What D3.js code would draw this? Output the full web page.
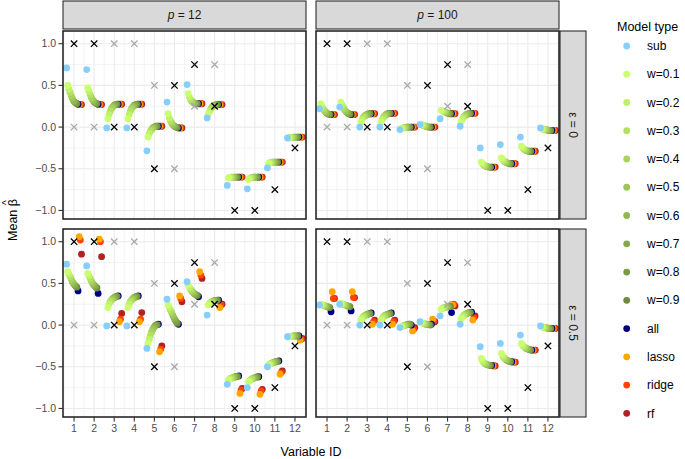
<!DOCTYPE html>
<html><head><meta charset="utf-8">
<script src="https://cdn.jsdelivr.net/npm/d3@7"></script>
<style>
body{margin:0;background:#fff}
svg{display:block}
text{font-family:"Liberation Sans",Arial,Helvetica,sans-serif}
</style>
</head><body>
<svg id="chart" width="685" height="459"></svg>
<script>
// ---------------- DATA ----------------
const variables = [1,2,3,4,5,6,7,8,9,10,11,12];
const modelTypes = ["sub","w=0.1","w=0.2","w=0.3","w=0.4","w=0.5","w=0.6","w=0.7","w=0.8","w=0.9","all","lasso","ridge","rf"];
const pLabels = ["12","100"];
const epsLabels = ["0","0.5"];
const yTicks = [-1,-0.5,0,0.5,1];
const yTickLabels = ["\u22121.0","\u22120.5","0.0","0.5","1.0"];
const trueBeta = [1,1,0,0,-0.5,0.5,0.75,0.25,-1,-1,-0.75,-0.25];
const altBeta  = [0,0,1,1,0.5,-0.5,0.25,0.75,null,null,null,null];

// rows = model types (same order as modelTypes), columns = variables 1..12
const p12_eps0 = [
 [0.71,0.69,-0.01,-0.01,-0.285,0.30,0.51,0.11,-0.70,-0.74,-0.49,-0.13],
 [0.50,0.47,0.10,0.10,-0.12,0.16,0.40,0.16,-0.61,-0.63,-0.44,-0.13],
 [0.455,0.43,0.15,0.15,-0.08,0.11,0.36,0.19,-0.605,-0.615,-0.43,-0.13],
 [0.415,0.39,0.19,0.19,-0.05,0.075,0.33,0.215,-0.60,-0.61,-0.425,-0.125],
 [0.375,0.355,0.22,0.22,-0.03,0.05,0.31,0.235,-0.60,-0.605,-0.42,-0.125],
 [0.345,0.33,0.24,0.24,-0.01,0.03,0.30,0.25,-0.60,-0.60,-0.42,-0.12],
 [0.315,0.31,0.255,0.255,0.0,0.015,0.29,0.26,-0.60,-0.60,-0.42,-0.12],
 [0.30,0.295,0.265,0.265,0.005,0.005,0.285,0.265,-0.60,-0.60,-0.42,-0.12],
 [0.29,0.285,0.27,0.27,0.01,0.0,0.28,0.27,-0.60,-0.60,-0.42,-0.12],
 [0.28,0.28,0.275,0.275,0.01,-0.005,0.28,0.27,-0.60,-0.60,-0.42,-0.12],
 [0.275,0.275,0.275,0.275,0.01,-0.01,0.28,0.27,-0.60,-0.60,-0.42,-0.12],
 [0.27,0.27,0.275,0.275,0.01,-0.01,0.28,0.27,-0.60,-0.60,-0.42,-0.12],
 [0.27,0.27,0.275,0.275,0.01,-0.01,0.28,0.27,-0.60,-0.60,-0.42,-0.12],
 [0.27,0.27,0.275,0.275,0.01,-0.01,0.28,0.27,-0.60,-0.60,-0.42,-0.12]
];
const p100_eps0 = [
 [0.22,0.24,0.0,0.0,-0.03,0.03,0.10,0.01,-0.25,-0.21,-0.12,-0.01],
 [0.28,0.30,0.06,0.06,-0.02,0.03,0.20,0.07,-0.42,-0.37,-0.23,-0.02],
 [0.25,0.27,0.09,0.09,-0.015,0.025,0.195,0.10,-0.44,-0.39,-0.25,-0.025],
 [0.22,0.24,0.115,0.115,-0.01,0.02,0.19,0.12,-0.455,-0.405,-0.265,-0.03],
 [0.20,0.215,0.13,0.135,-0.005,0.015,0.18,0.135,-0.465,-0.415,-0.275,-0.03],
 [0.185,0.195,0.14,0.145,0.0,0.01,0.175,0.145,-0.47,-0.425,-0.28,-0.035],
 [0.17,0.18,0.15,0.155,0.0,0.005,0.17,0.155,-0.475,-0.43,-0.285,-0.035],
 [0.16,0.165,0.155,0.16,0.0,0.0,0.165,0.16,-0.48,-0.435,-0.29,-0.04],
 [0.155,0.16,0.16,0.165,0.0,0.0,0.16,0.16,-0.48,-0.44,-0.29,-0.04],
 [0.15,0.155,0.16,0.165,0.0,0.0,0.16,0.165,-0.48,-0.44,-0.29,-0.04],
 [0.15,0.15,0.16,0.165,0.0,0.0,0.16,0.165,-0.48,-0.44,-0.29,-0.04],
 [0.15,0.15,0.16,0.165,0.0,0.0,0.16,0.165,-0.48,-0.44,-0.29,-0.04],
 [0.15,0.15,0.16,0.165,0.0,0.0,0.16,0.165,-0.48,-0.44,-0.29,-0.04],
 [0.15,0.15,0.16,0.165,0.0,0.0,0.16,0.165,-0.48,-0.44,-0.29,-0.04]
];
const p12_eps05 = [
 [0.73,0.71,-0.01,-0.01,-0.28,0.31,0.52,0.12,-0.71,-0.75,-0.50,-0.14],
 [0.64,0.62,0.21,0.21,-0.22,0.24,0.48,0.24,-0.66,-0.68,-0.48,-0.14],
 [0.61,0.59,0.25,0.25,-0.17,0.21,0.455,0.26,-0.65,-0.665,-0.47,-0.14],
 [0.58,0.56,0.28,0.28,-0.125,0.18,0.43,0.27,-0.64,-0.655,-0.46,-0.135],
 [0.55,0.53,0.30,0.30,-0.085,0.15,0.41,0.28,-0.635,-0.645,-0.455,-0.135],
 [0.52,0.505,0.315,0.315,-0.055,0.12,0.395,0.285,-0.63,-0.64,-0.45,-0.13],
 [0.50,0.485,0.325,0.325,-0.03,0.09,0.38,0.29,-0.625,-0.635,-0.445,-0.13],
 [0.48,0.47,0.335,0.335,-0.01,0.06,0.37,0.295,-0.62,-0.63,-0.44,-0.13],
 [0.465,0.455,0.34,0.34,0.0,0.04,0.36,0.295,-0.62,-0.625,-0.44,-0.13],
 [0.455,0.445,0.345,0.345,0.005,0.02,0.355,0.30,-0.615,-0.62,-0.435,-0.13],
 [0.41,0.38,0.35,0.35,0.01,0.01,0.34,0.30,-0.61,-0.62,-0.43,-0.13],
 [1.06,1.03,0.04,0.04,-0.32,0.35,0.64,0.21,-0.82,-0.83,-0.59,-0.18],
 [1.02,1.00,0.07,0.07,-0.29,0.32,0.60,0.24,-0.78,-0.79,-0.57,-0.17],
 [0.85,0.82,0.14,0.15,-0.25,0.28,0.56,0.25,-0.76,-0.77,-0.55,-0.16]
];
const p100_eps05 = [
 [0.24,0.25,0.0,0.0,-0.03,0.04,0.11,0.01,-0.26,-0.22,-0.12,-0.01],
 [0.25,0.26,0.06,0.06,-0.02,0.03,0.19,0.08,-0.40,-0.34,-0.22,-0.02],
 [0.245,0.255,0.08,0.08,-0.015,0.025,0.20,0.10,-0.43,-0.37,-0.245,-0.025],
 [0.24,0.25,0.10,0.10,-0.01,0.02,0.205,0.115,-0.45,-0.39,-0.26,-0.03],
 [0.235,0.245,0.11,0.11,-0.005,0.015,0.21,0.125,-0.46,-0.405,-0.27,-0.03],
 [0.23,0.24,0.12,0.12,0.0,0.01,0.215,0.135,-0.47,-0.415,-0.28,-0.035],
 [0.225,0.235,0.125,0.125,0.005,0.01,0.22,0.14,-0.475,-0.425,-0.285,-0.035],
 [0.22,0.23,0.13,0.13,0.01,0.005,0.22,0.145,-0.48,-0.43,-0.29,-0.04],
 [0.215,0.225,0.135,0.135,0.01,0.005,0.225,0.15,-0.48,-0.435,-0.295,-0.04],
 [0.21,0.22,0.14,0.14,0.01,0.0,0.225,0.15,-0.485,-0.44,-0.30,-0.04],
 [0.16,0.17,0.145,0.145,0.0,0.01,0.15,0.155,-0.485,-0.44,-0.30,-0.04],
 [0.40,0.40,0.01,0.01,-0.07,0.07,0.24,0.06,-0.49,-0.445,-0.30,-0.04],
 [0.32,0.33,0.04,0.04,-0.05,0.05,0.25,0.09,-0.49,-0.445,-0.30,-0.04],
 [0.32,0.33,0.06,0.06,-0.03,0.04,0.23,0.11,-0.49,-0.445,-0.30,-0.04]
];
const panelData = [[p12_eps0, p100_eps0],[p12_eps05, p100_eps05]];

// ---------------- STYLE / LAYOUT ----------------
const wColors = d3.range(9).map(i => d3.interpolateRgb("#CAFF70","#6E8B3D")(i/8));
const typeColors = ["#87CEFA", ...wColors, "#000080", "#FFA500", "#FF4500", "#B22222"];
const color = d3.scaleOrdinal().domain(modelTypes).range(typeColors);

const cols = [{x0:63,x1:306},{x0:316,x1:559}];
const rows = [{y0:31,y1:219},{y0:229,y1:417}];
const R = 3.4;
const dodgeWidth = 0.8;

const svg = d3.select("#chart");
const defs = svg.append("defs");

rows.forEach((row, ri) => {
  cols.forEach((col, ci) => {
    const x = d3.scaleLinear().domain([0.45, 12.55]).range([col.x0, col.x1]);
    const y = d3.scaleLinear().domain([-1.1025, 1.1525]).range([row.y1, row.y0]);
    const g = svg.append("g");
    const clipId = `clip${ri}${ci}`;
    defs.append("clipPath").attr("id", clipId).append("rect")
      .attr("x", col.x0).attr("y", row.y0).attr("width", col.x1 - col.x0).attr("height", row.y1 - row.y0);

    g.append("rect").attr("x", col.x0).attr("y", row.y0).attr("width", col.x1-col.x0).attr("height", row.y1-row.y0).attr("fill","#fff");

    // minor grid
    const minorX = d3.range(0.5, 12.51, 1);
    const minorY = [-0.75,-0.25,0.25,0.75];
    g.selectAll(".mx").data(minorX).join("line")
      .attr("x1", d=>x(d)).attr("x2", d=>x(d)).attr("y1", row.y0).attr("y2", row.y1)
      .attr("stroke","#EBEBEB").attr("stroke-width",0.6);
    g.selectAll(".my").data(minorY).join("line")
      .attr("y1", d=>y(d)).attr("y2", d=>y(d)).attr("x1", col.x0).attr("x2", col.x1)
      .attr("stroke","#EBEBEB").attr("stroke-width",0.6);
    // major grid
    g.selectAll(".Mx").data(variables).join("line")
      .attr("x1", d=>x(d)).attr("x2", d=>x(d)).attr("y1", row.y0).attr("y2", row.y1)
      .attr("stroke","#EBEBEB").attr("stroke-width",1.1);
    g.selectAll(".My").data(yTicks).join("line")
      .attr("y1", d=>y(d)).attr("y2", d=>y(d)).attr("x1", col.x0).attr("x2", col.x1)
      .attr("stroke","#EBEBEB").attr("stroke-width",1.1);

    // points (drawn from last model type to first, so "sub" ends on top)
    const data = panelData[ri][ci];
    const pts = [];
    for (let t = modelTypes.length - 1; t >= 0; t--) {
      variables.forEach((v, vi) => {
        pts.push({type: modelTypes[t], ti: t, v, val: data[t][vi]});
      });
    }
    const pg = g.append("g").attr("clip-path", `url(#${clipId})`);
    pg.selectAll("circle").data(pts).join("circle")
      .attr("cx", d => x(d.v + (d.ti - (modelTypes.length-1)/2) * dodgeWidth / modelTypes.length))
      .attr("cy", d => y(d.val))
      .attr("r", R)
      .attr("fill", d => color(d.type));

    // X marks
    const cross = "M-3.2,-3.2L3.2,3.2M-3.2,3.2L3.2,-3.2";
    const altPts = variables.map((v,i)=>({v, b: altBeta[i]})).filter(d=>d.b!==null);
    pg.selectAll(".alt").data(altPts).join("path")
      .attr("d", cross).attr("transform", d=>`translate(${x(d.v)},${y(d.b)})`)
      .attr("stroke","#A8A8A8").attr("stroke-width",1.3).attr("fill","none");
    pg.selectAll(".tru").data(variables.map((v,i)=>({v, b: trueBeta[i]}))).join("path")
      .attr("d", cross).attr("transform", d=>`translate(${x(d.v)},${y(d.b)})`)
      .attr("stroke","#000").attr("stroke-width",1.3).attr("fill","none");

    // border
    g.append("rect").attr("x", col.x0).attr("y", row.y0).attr("width", col.x1-col.x0).attr("height", row.y1-row.y0)
      .attr("fill","none").attr("stroke","#1a1a1a").attr("stroke-width",1.5);

    // y axis on left column
    if (ci === 0) {
      const ax = g.append("g");
      ax.selectAll("line").data(yTicks).join("line")
        .attr("x1", col.x0 - 4.5).attr("x2", col.x0).attr("y1", d=>y(d)).attr("y2", d=>y(d))
        .attr("stroke","#333").attr("stroke-width",1.1);
      ax.selectAll("text").data(yTicks).join("text")
        .attr("x", col.x0 - 7).attr("y", d=>y(d)).attr("dy","0.35em")
        .attr("text-anchor","end").attr("font-size",10.5).attr("fill","#4D4D4D")
        .text((d,i)=>yTickLabels[i]);
    }
    // x axis on bottom row
    if (ri === rows.length - 1) {
      const ax = g.append("g");
      ax.selectAll("line").data(variables).join("line")
        .attr("x1", d=>x(d)).attr("x2", d=>x(d)).attr("y1", row.y1).attr("y2", row.y1 + 4.5)
        .attr("stroke","#333").attr("stroke-width",1.1);
      ax.selectAll("text").data(variables).join("text")
        .attr("x", d=>x(d)).attr("y", row.y1 + 15)
        .attr("text-anchor","middle").attr("font-size",10.5).attr("fill","#4D4D4D")
        .text(d=>d);
    }
    // top strips
    if (ri === 0) {
      svg.append("rect").attr("x", col.x0).attr("y", 1).attr("width", col.x1-col.x0).attr("height", 28)
        .attr("fill","#D9D9D9").attr("stroke","#1a1a1a").attr("stroke-width",1);
      const t = svg.append("text").attr("x", (col.x0+col.x1)/2).attr("y", 15).attr("dy","0.35em")
        .attr("text-anchor","middle").attr("font-size",12).attr("fill","#1A1A1A");
      t.append("tspan").attr("font-style","italic").text("p");
      t.append("tspan").text(" = " + pLabels[ci]);
    }
    // right strips
    if (ci === cols.length - 1) {
      svg.append("rect").attr("x", 560).attr("y", row.y0).attr("width", 26).attr("height", row.y1-row.y0)
        .attr("fill","#D9D9D9").attr("stroke","#1a1a1a").attr("stroke-width",1);
      svg.append("text").attr("transform", `translate(573,${(row.y0+row.y1)/2}) rotate(90)`)
        .attr("dy","0.35em").attr("text-anchor","middle").attr("font-size",12).attr("fill","#1A1A1A")
        .text("\u03B5 = " + epsLabels[ri]);
    }
  });
});

// axis titles
svg.append("text").attr("x", (63+559)/2).attr("y", 456).attr("text-anchor","middle")
  .attr("font-size",12.5).attr("fill","#000").text("Variable ID");
const ytg = svg.append("g").attr("transform","translate(17,220) rotate(-90)");
const yt = ytg.append("text").attr("text-anchor","middle").attr("font-size",12.5).attr("fill","#000");
yt.append("tspan").text("Mean ");
const beta = yt.append("tspan").text("\u03B2");
{
  const n = yt.node();
  const idx = n.getNumberOfChars() - 1;
  const ext = n.getExtentOfChar(idx);
  ytg.append("text").attr("x", ext.x + ext.width/2).attr("y", ext.y + 3.5)
    .attr("text-anchor","middle").attr("font-size",10).attr("fill","#000").text("^");
}

// legend
svg.append("text").attr("x", 617).attr("y", 27).attr("dy","0.35em").attr("font-size",12.5).attr("fill","#000").text("Model type");
const lg = svg.append("g");
const ly = d3.scalePoint().domain(modelTypes).range([46, 413.3]);
lg.selectAll("circle").data(modelTypes).join("circle")
  .attr("cx", 626.7).attr("cy", d=>ly(d)).attr("r", R).attr("fill", d=>color(d));
lg.selectAll("text").data(modelTypes).join("text")
  .attr("x", 647).attr("y", d=>ly(d)).attr("dy","0.35em").attr("font-size",12).attr("fill","#000").text(d=>d);
</script>
</body></html>
